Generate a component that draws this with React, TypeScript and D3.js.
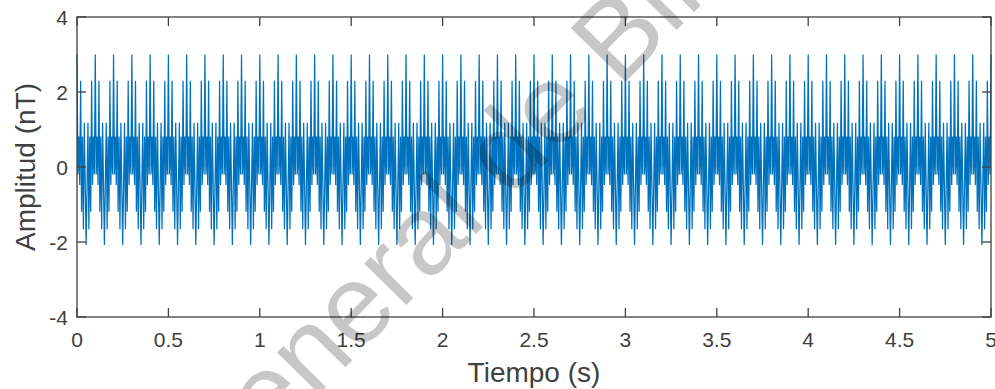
import React, { useEffect, useRef } from 'react';
import * as d3 from 'd3';

const cycleValues = [3.0, -0.2, 0.81, -0.48, 2.3, -1.19, 0.81, -1.66, 1.18, -0.48,
  -2.08, -0.48, 1.18, -1.66, 0.81, -1.19, 2.3, -0.48, 0.81, -0.2];
const sampleStep = 0.005;
const cycleCount = 50;

const xTicks = [0, 0.5, 1, 1.5, 2, 2.5, 3, 3.5, 4, 4.5, 5];
const yTicks = [-4, -2, 0, 2, 4];
const xLabel = 'Tiempo (s)';
const yLabel = 'Amplitud (nT)';
const watermark = 'General de Bibliotecas';

const App: React.FC = () => {
  const svgRef = useRef<SVGSVGElement>(null);

  useEffect(() => {
    if (!svgRef.current) return;
    const width = 995;
    const height = 389;
    const left = 77, right = 991, top = 17, bottom = 317;
    const axisColor = '#404040';
    const font = 'Liberation Sans, Arial, sans-serif';
    const tickLen = 9;

    const svg = d3.select(svgRef.current);
    svg.selectAll('*').remove();
    svg.attr('width', width).attr('height', height);

    const x = d3.scaleLinear().domain([0, 5]).range([left, right]);
    const y = d3.scaleLinear().domain([-4, 4]).range([bottom, top]);

    // repeat the read cycle over the 5 s record
    const series: [number, number][] = [];
    for (let i = 0; i <= cycleCount * cycleValues.length; i++) {
      series.push([i * sampleStep, cycleValues[i % cycleValues.length]]);
    }

    const line = d3.line<[number, number]>()
      .x(d => x(d[0]))
      .y(d => y(d[1]));

    svg.append('path')
      .datum(series)
      .attr('d', line)
      .style('fill', 'none')
      .style('stroke', '#0072BD')
      .style('stroke-width', 1.25)
      .style('stroke-linejoin', 'miter');

    // box
    svg.append('rect')
      .attr('x', left).attr('y', top)
      .attr('width', right - left).attr('height', bottom - top)
      .style('fill', 'none')
      .style('stroke', axisColor)
      .style('stroke-width', 1.3);

    // ticks (inward, mirrored)
    xTicks.forEach(t => {
      const px = x(t);
      svg.append('line').attr('x1', px).attr('x2', px).attr('y1', bottom).attr('y2', bottom - tickLen)
        .style('stroke', axisColor).style('stroke-width', 1.3);
      svg.append('line').attr('x1', px).attr('x2', px).attr('y1', top).attr('y2', top + tickLen)
        .style('stroke', axisColor).style('stroke-width', 1.3);
      svg.append('text')
        .attr('x', px).attr('y', bottom + 30)
        .text(String(t))
        .style('text-anchor', 'middle')
        .style('font-family', font)
        .style('font-size', '21px')
        .style('fill', axisColor);
    });

    yTicks.forEach(t => {
      const py = y(t);
      svg.append('line').attr('x1', left).attr('x2', left + tickLen).attr('y1', py).attr('y2', py)
        .style('stroke', axisColor).style('stroke-width', 1.3);
      svg.append('line').attr('x1', right).attr('x2', right - tickLen).attr('y1', py).attr('y2', py)
        .style('stroke', axisColor).style('stroke-width', 1.3);
      svg.append('text')
        .attr('x', left - 9).attr('y', py + 7.5)
        .text(String(t))
        .style('text-anchor', 'end')
        .style('font-family', font)
        .style('font-size', '21px')
        .style('fill', axisColor);
    });

    svg.append('text')
      .attr('x', (left + right) / 2).attr('y', 382)
      .text(xLabel)
      .style('text-anchor', 'middle')
      .style('font-family', font)
      .style('font-size', '28px')
      .style('fill', axisColor);

    svg.append('text')
      .attr('transform', `translate(35,${(top + bottom) / 2}) rotate(-90)`)
      .text(yLabel)
      .style('text-anchor', 'middle')
      .style('font-family', font)
      .style('font-size', '28px')
      .style('fill', axisColor);

    // library watermark laid over the figure
    svg.append('text')
      .attr('transform', 'translate(209,506) rotate(-45.5)')
      .text(watermark)
      .style('font-family', font)
      .style('font-size', '112px')
      .style('fill', '#000')
      .style('fill-opacity', 0.22);
  }, []);

  return (
    <div style={{ position: 'absolute', left: 0, top: 0, background: '#fff' }}>
      <svg ref={svgRef}></svg>
    </div>
  );
};

export default App;
